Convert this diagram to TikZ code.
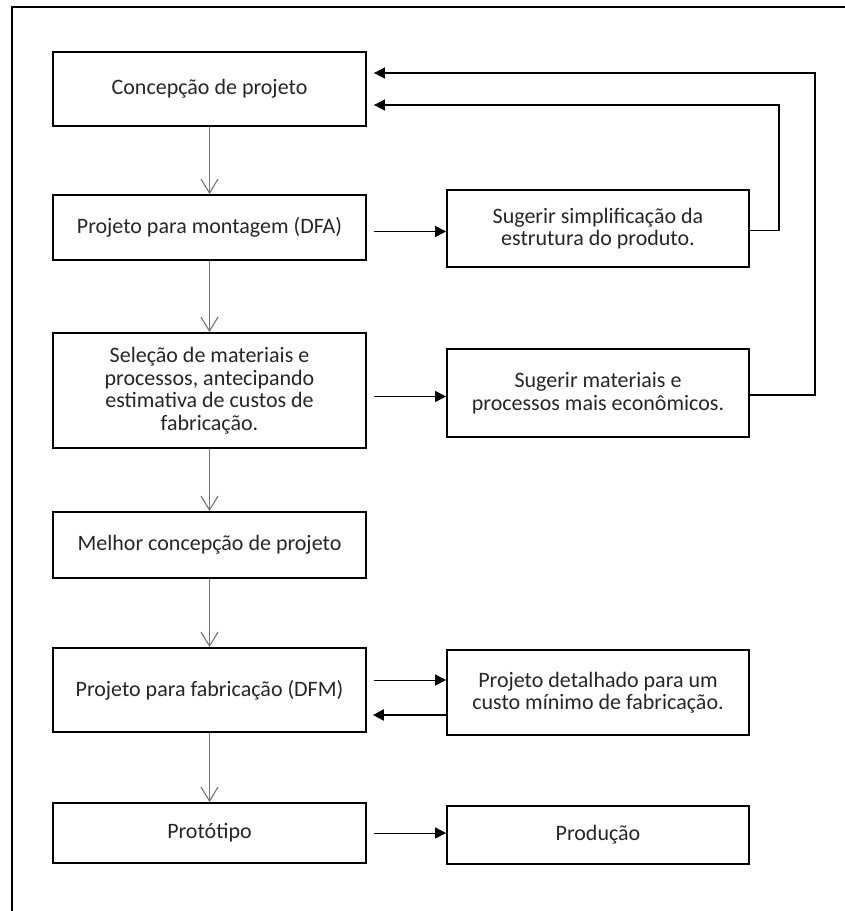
\documentclass[tikz,border=0pt]{standalone}
\usepackage{fontspec}
\setmainfont{Carlito}
\usetikzlibrary{arrows.meta}

\tikzset{
  etapa/.style={draw, rectangle, line width=1.8pt, minimum width=313pt, align=center, text=black!85},
  sugestao/.style={draw, rectangle, line width=1.8pt, minimum width=302pt, align=center, text=black!85},
  desce/.style={draw=black!55, line width=1.1pt, -{Straight Barb[length=14pt, width=17pt]}},
  segue/.style={line width=1pt, -{Triangle[length=11pt, width=11pt]}, shorten <=7pt},
  volta/.style={line width=1.6pt, -{Triangle[length=11pt, width=11pt]}, shorten >=7pt}
}

\begin{document}
\begin{tikzpicture}[x=1pt, y=-1pt, font=\fontsize{22}{22.5}\selectfont]

        \useasboundingbox (0,0) rectangle (845,911);

        % Moldura (so a esquerda e o topo aparecem)
        \draw[line width=1.8pt] (12,911) -- (12,7) -- (845,7);

        % Define nodes in the first column (left)
        \node[etapa, minimum height=74pt] (C1) at (209.5,89) {Concepção de projeto};
        \node[etapa, minimum height=65pt] (C2) at (209.5,227.5) {Projeto para montagem (DFA)};
        \node[etapa, minimum height=115pt] (C3) at (209.5,390.5) {Seleção de materiais e\\ processos, antecipando\\ estimativa de custos de\\ fabricação.};
        \node[etapa, minimum height=66pt] (C4) at (209.5,545) {Melhor concepção de projeto};
        \node[etapa, minimum height=84pt] (C5) at (209.5,690) {Projeto para fabricação (DFM)};
        \node[etapa, minimum height=60pt] (C6) at (209.5,833) {Protótipo};

        % Define nodes in the second column (right)
        \node[sugestao, minimum height=77pt] (S1) at (598,228.5) {Sugerir simplificação da\\ estrutura do produto.};
        \node[sugestao, minimum height=88pt] (S2) at (598,393) {Sugerir materiais e\\ processos mais econômicos.};
        \node[sugestao, minimum height=85pt] (S3) at (598,692.5) {Projeto detalhado para um\\ custo mínimo de fabricação.};
        \node[sugestao, minimum height=58pt] (S4) at (598,835) {Produção};

        % Draw arrows down the first column
        \draw[desce] (C1) -- (C2);
        \draw[desce] (C2) -- (C3);
        \draw[desce] (C3) -- (C4);
        \draw[desce] (C4) -- (C5);
        \draw[desce] (C5) -- (C6);

        % Draw arrows from the first column to the second column
        \draw[segue] ([yshift=-4pt]C2.east) -- ([yshift=-4pt]C2.east -| S1.west);
        \draw[segue] ([yshift=-6pt]C3.east) -- ([yshift=-6pt]C3.east -| S2.west);
        \draw[segue] ([yshift=10pt]C5.east) -- ([yshift=10pt]C5.east -| S3.west);
        \draw[segue] (C6.east) -- (C6.east -| S4.west);

        % Draw the arrows coming back
        \draw[volta, line width=2pt, shorten >=6pt] ([yshift=-25pt]C5.east -| S3.west) -- ([yshift=-25pt]C5.east);
        \draw[volta] ([yshift=-2pt]S1.east) -- ++(29,0) |- ([yshift=-16pt]C1.east);
        \draw[volta] ([yshift=-2pt]S2.east) -- ++(65,0) |- ([yshift=16pt]C1.east);

    \end{tikzpicture}
\end{document}
